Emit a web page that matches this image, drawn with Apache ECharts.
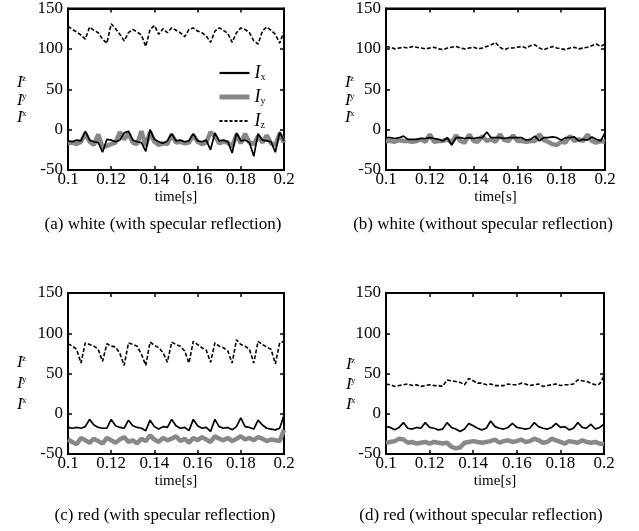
<!DOCTYPE html>
<html>
<head>
<meta charset="utf-8">
<script src="https://cdn.jsdelivr.net/npm/echarts@6/dist/echarts.min.js"></script>
<style>html,body{margin:0;padding:0;background:#fff}#c{width:639px;height:531px}</style>
</head>
<body>
<div id="c"></div>
<script>
// ---- data ----
var time = [0.100,0.102,0.104,0.106,0.108,0.110,0.112,0.114,0.116,0.118,
            0.120,0.122,0.124,0.126,0.128,0.130,0.132,0.134,0.136,0.138,
            0.140,0.142,0.144,0.146,0.148,0.150,0.152,0.154,0.156,0.158,
            0.160,0.162,0.164,0.166,0.168,0.170,0.172,0.174,0.176,0.178,
            0.180,0.182,0.184,0.186,0.188,0.190,0.192,0.194,0.196,0.198,0.200];
var xTicks = [0.1,0.12,0.14,0.16,0.18,0.2];
var yTicks = [-50,0,50,100,150];

// (a) white (with specular reflection)
var aIx = [-14,-15,-13,-14,-2,-13,-15,-16,-28,-12, -13,-15,-13,-4,-2,-13,-15,-16,-27,0,
           -12,-15,-17,-14,-5,-14,-13,-15,-14,-5, -14,-15,-13,-25,-4,-14,-13,-15,-29,-4,
           -14,-13,-16,-33,-5,-13,-14,-15,-28,-3,-14];
var aIy = [-17,-16,-18,-15,-5,-15,-19,-6,-22,-20, -18,-16,-3,-12,-5,-16,-18,-2,-20,-3,
           -15,-19,-17,-18,-6,-16,-15,-17,-16,-7, -15,-18,-16,-3,-8,-17,-15,-16,-21,-6,
           -17,-5,-16,-18,-8,-16,-7,-17,-19,-5,-16];
var aIz = [128,124,121,117,112,127,123,120,112,107, 131,125,118,110,120,124,121,117,103,124,
           129,118,125,120,126,123,120,115,124,126, 122,120,116,108,122,126,123,119,108,120,
           126,124,120,110,106,122,127,123,118,107,122];

// (b) white (without specular reflection)
var bIx = [-10,-10,-11,-10,-8,-12,-12,-12,-11,-11, -10,-11,-12,-14,-10,-19,-10,-10,-11,-10,
           -11,-10,-10,-3,-10,-10,-10,-11,-10,-10, -10,-10,-13,-12,-8,-14,-10,-10,-9,-10,
           -13,-10,-10,-9,-14,-12,-13,-9,-12,-14,-4];
var bIy = [-14,-14,-15,-13,-14,-14,-15,-14,-12,-15, -6,-15,-14,-14,-12,-16,-7,-14,-16,-6,
           -14,-15,-8,-14,-12,-15,-6,-13,-14,-7, -14,-14,-15,-14,-14,-6,-13,-15,-18,-19,
           -15,-16,-8,-14,-12,-14,-6,-14,-16,-14,-15];
var bIz = [103,102,100,101,102,101,103,102,101,100, 101,102,100,99,101,102,103,101,100,101,
           102,100,101,103,105,108,102,99,101,101, 102,103,101,104,105,101,99,101,103,101,
           100,99,101,102,100,101,102,104,106,103,106];

// (c) red (with specular reflection)
var cIx = [-17,-18,-17,-18,-16,-7,-14,-17,-18,-18, -7,-15,-17,-18,-8,-15,-17,-18,-21,-8,
           -16,-19,-16,-17,-7,-15,-18,-17,-21,-7, -15,-18,-17,-22,-7,-16,-18,-17,-20,-16,
           -5,-16,-17,-19,-8,-14,-18,-19,-20,-18,-2];
var cIy = [-32,-35,-38,-30,-33,-36,-31,-34,-37,-30, -33,-36,-32,-29,-35,-33,-37,-31,-34,-27,
           -32,-35,-30,-33,-31,-28,-34,-31,-36,-30, -33,-29,-32,-35,-28,-31,-33,-30,-34,-31,
           -28,-32,-30,-33,-29,-31,-34,-32,-33,-34,-20];
var cIz = [87,84,80,63,88,86,84,80,65,87, 84,83,75,60,88,86,84,74,60,89,
           85,82,76,64,89,86,84,78,63,90, 86,82,79,64,88,84,82,78,63,92,
           86,84,80,63,90,86,83,80,62,88,90];

// (d) red (without specular reflection)
var dIx = [-16,-17,-20,-17,-11,-18,-19,-17,-18,-11, -17,-18,-20,-19,-11,-17,-19,-22,-19,-12,
           -15,-18,-20,-18,-9,-16,-18,-19,-17,-12, -17,-18,-19,-18,-11,-16,-18,-19,-17,-12,
           -17,-16,-20,-18,-11,-17,-18,-13,-19,-17,-13];
var dIy = [-36,-35,-34,-31,-32,-36,-35,-37,-36,-35, -37,-35,-36,-37,-36,-41,-43,-42,-36,-35,
           -34,-35,-36,-35,-34,-32,-36,-34,-33,-35, -34,-32,-35,-34,-31,-33,-36,-35,-31,-33,
           -35,-37,-34,-35,-36,-33,-35,-36,-35,-37,-38];
var dIz = [37,36,34,35,36,37,35,36,34,35, 36,35,35,34,42,41,40,39,36,44,
           41,38,38,36,37,35,35,35,37,36, 36,38,37,35,36,37,34,35,36,37,
           35,36,36,37,42,41,40,38,36,37,47];

var captions = ['(a) white (with specular reflection)','(b) white (without specular reflection)',
                '(c) red (with specular reflection)','(d) red (without specular reflection)'];
var panels = [[aIx,aIy,aIz],[bIx,bIy,bIz],[cIx,cIy,cIz],[dIx,dIy,dIz]];

// ---- layout ----
var FONT = '"Liberation Serif","Times New Roman",serif';
var grids = [
  {left:68, top:7, width:216, height:163},
  {left:386, top:7, width:219, height:163},
  {left:68, top:293, width:216, height:161},
  {left:386, top:293, width:218, height:161}
];
var capPos = [[163,225],[483,225],[165,516],[481,516]];
var ylabPos = [[17,83,17.5],[345,83,17.5],[17,363,21],[346,365,20]];

function zip(arr){ return time.map(function(t,k){ return [t, arr[k]]; }); }

var option = {
  animation:false,
  backgroundColor:'#fff',
  textStyle:{fontFamily:FONT, color:'#000'},
  grid: grids.map(function(g){ return Object.assign({show:true, borderColor:'#000', borderWidth:2, backgroundColor:'transparent'}, g); }),
  xAxis:[], yAxis:[], series:[], graphic:[],
  legend:{
    data:[
      {name:'Ix', lineStyle:{color:'#000', width:2.2}},
      {name:'Iy', lineStyle:{color:'#888', width:5}},
      {name:'Iz', lineStyle:{color:'#000', width:2, type:[3,2]}}
    ],
    orient:'vertical', left:212, top:59, itemWidth:30, itemHeight:14, itemGap:6,
    selectedMode:false,
    itemStyle:{opacity:0},
    textStyle:{fontFamily:FONT, color:'#000', fontSize:16, lineHeight:16,
      rich:{a:{fontFamily:FONT, fontStyle:'italic', fontSize:18, color:'#000'},
            b:{fontFamily:FONT, fontSize:10, color:'#000', padding:[8,0,0,0]}}},
    formatter:function(n){ return '{a|I}{b|' + n.charAt(1) + '}'; }
  }
};

grids.forEach(function(g,i){
  option.xAxis.push({
    gridIndex:i, type:'value', min:0.1, max:0.2, interval:0.02, position:'bottom',
    name:'time[s]', nameLocation:'middle', nameGap:20,
    nameTextStyle:{fontFamily:FONT, fontSize:15, color:'#000'},
    axisLine:{show:true, onZero:false, lineStyle:{color:'#000', width:2}},
    axisTick:{show:true, inside:true, length:4, lineStyle:{color:'#000', width:1.5}},
    axisLabel:{show:true, margin:1, fontFamily:FONT, fontSize:17, color:'#000',
      formatter:function(v){ return String(+v.toFixed(2)); }},
    splitLine:{show:false}
  });
  option.xAxis.push({
    gridIndex:i, type:'value', min:0.1, max:0.2, interval:0.02, position:'top',
    axisLine:{show:true, onZero:false, lineStyle:{color:'#000', width:2}},
    axisTick:{show:true, inside:true, length:4, lineStyle:{color:'#000', width:1.5}},
    axisLabel:{show:false}, splitLine:{show:false}
  });
  option.yAxis.push({
    gridIndex:i, type:'value', min:-50, max:150, interval:50, position:'left',
    axisLine:{show:true, onZero:false, lineStyle:{color:'#000', width:2}},
    axisTick:{show:true, inside:true, length:4, lineStyle:{color:'#000', width:1.5}},
    axisLabel:{show:true, margin:5, fontFamily:FONT, fontSize:17, color:'#000'},
    splitLine:{show:false}
  });
  option.yAxis.push({
    gridIndex:i, type:'value', min:-50, max:150, interval:50, position:'right',
    axisLine:{show:true, onZero:false, lineStyle:{color:'#000', width:2}},
    axisTick:{show:true, inside:true, length:4, lineStyle:{color:'#000', width:1.5}},
    axisLabel:{show:false}, splitLine:{show:false}
  });
  var d = panels[i];
  option.series.push({name:'Iy', type:'line', xAxisIndex:2*i, yAxisIndex:2*i, data:zip(d[1]),
    symbol:'none', lineStyle:{color:'#888', width:4.5}, itemStyle:{color:'#888'}, z:2});
  option.series.push({name:'Ix', type:'line', xAxisIndex:2*i, yAxisIndex:2*i, data:zip(d[0]),
    symbol:'none', lineStyle:{color:'#000', width:1.7}, itemStyle:{color:'#000'}, z:3});
  option.series.push({name:'Iz', type:'line', xAxisIndex:2*i, yAxisIndex:2*i, data:zip(d[2]),
    symbol:'none', lineStyle:{color:'#000', width:1.6, type:[4,2]}, itemStyle:{color:'#000'}, z:3});

  option.graphic.push({type:'text', x:capPos[i][0], y:capPos[i][1], z:10,
    style:{text:captions[i], fontFamily:FONT, fontSize:17, fill:'#000', align:'center', verticalAlign:'middle'}});
  var p = ylabPos[i];
  [['z',-1],['y',0],['x',1]].forEach(function(s){
    var yy = p[1] + (s[1]+1)*p[2];
    option.graphic.push({type:'text', x:p[0], y:yy, z:10,
      style:{text:'I', fontFamily:FONT, fontStyle:'italic', fontSize:17, fill:'#000', align:'left', verticalAlign:'middle'}});
    option.graphic.push({type:'text', x:p[0]+5, y:yy-4, z:10,
      style:{text:s[0], fontFamily:FONT, fontSize:9, fill:'#000', align:'left', verticalAlign:'middle'}});
  });
});

var chart = echarts.init(document.getElementById('c'), null, {renderer:'canvas'});
chart.setOption(option);
</script>
</body>
</html>
